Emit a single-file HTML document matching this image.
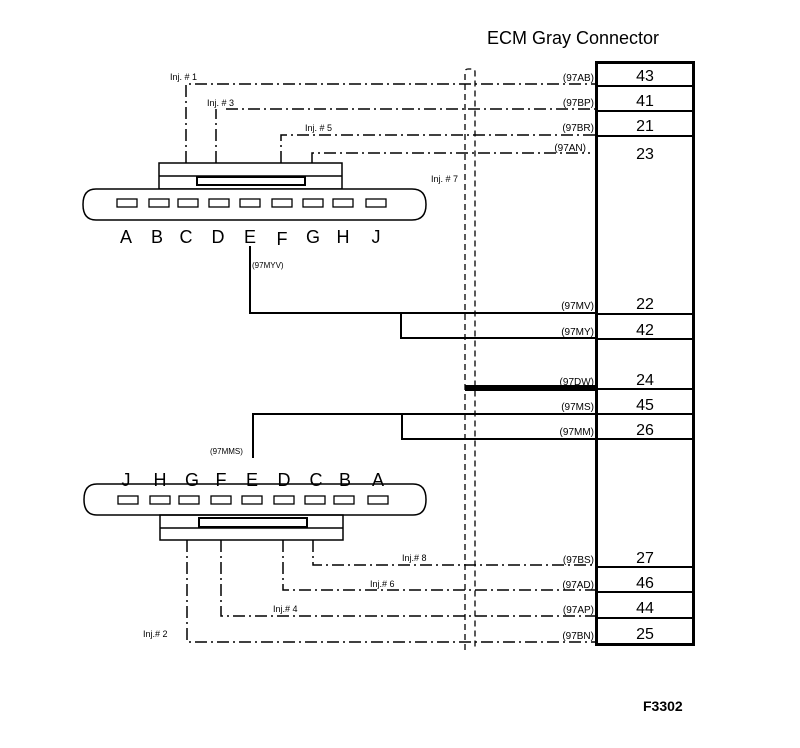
<!DOCTYPE html>
<html><head><meta charset="utf-8"><style>
html,body{margin:0;padding:0;background:#fff}
svg{display:block}
text{font-family:"Liberation Sans",Arial,sans-serif;fill:#000}
</style></head><body>
<svg width="800" height="748" viewBox="0 0 800 748" xmlns="http://www.w3.org/2000/svg">
<text x="487" y="44" font-size="18">ECM Gray Connector</text>
<text x="643" y="711" font-size="14" font-weight="bold">F3302</text>

<!-- ECM box -->
<rect x="596.5" y="62.5" width="97" height="582" fill="none" stroke="#000" stroke-width="3"/>
<g stroke="#000" stroke-width="2">
<line x1="596" y1="86" x2="694" y2="86"/><line x1="596" y1="111" x2="694" y2="111"/><line x1="596" y1="136" x2="694" y2="136"/>
<line x1="596" y1="314" x2="694" y2="314"/><line x1="596" y1="339" x2="694" y2="339"/>
<line x1="596" y1="389" x2="694" y2="389"/><line x1="596" y1="414" x2="694" y2="414"/><line x1="596" y1="439" x2="694" y2="439"/>
<line x1="596" y1="567" x2="694" y2="567"/><line x1="596" y1="592" x2="694" y2="592"/><line x1="596" y1="618" x2="694" y2="618"/>
</g>
<g font-size="16" text-anchor="middle">
<text x="645" y="81">43</text><text x="645" y="106">41</text><text x="645" y="131">21</text><text x="645" y="159">23</text>
<text x="645" y="309">22</text><text x="645" y="335">42</text><text x="645" y="385">24</text><text x="645" y="410">45</text><text x="645" y="435">26</text>
<text x="645" y="563">27</text><text x="645" y="588">46</text><text x="645" y="613">44</text><text x="645" y="639">25</text>
</g>
<g font-size="10" text-anchor="end">
<text x="594" y="81">(97AB)</text><text x="594" y="106">(97BP)</text><text x="594" y="131">(97BR)</text><text x="586" y="151">(97AN)</text>
<text x="594" y="309">(97MV)</text><text x="594" y="335">(97MY)</text><text x="594" y="385">(97DW)</text><text x="594" y="410">(97MS)</text><text x="594" y="435">(97MM)</text>
<text x="594" y="563">(97BS)</text><text x="594" y="588">(97AD)</text><text x="594" y="613">(97AP)</text><text x="594" y="639">(97BN)</text>
</g>

<!-- shield -->
<path d="M465 650 V72 Q465 69 468 69 H472 Q475 69 475 72 V650" fill="none" stroke="#000" stroke-width="1.3" stroke-dasharray="6 4"/>

<!-- dash-dot wires -->
<g fill="none" stroke="#000" stroke-width="1.5" stroke-dasharray="12 4 2 4">
<path d="M186 163 V84 H596"/>
<path d="M216 163 V109"/><path d="M226 109 H596"/>
<path d="M281 163 V135 H596"/>
<path d="M312 163 V153 H590"/>
<path d="M313 540 V565 H596"/>
<path d="M283 540 V590 H596"/>
<path d="M221 540 V616 H596"/>
<path d="M187 540 V642 H596"/>
</g>
<g font-size="9">
<text x="170" y="80">Inj. # 1</text><text x="207" y="106">Inj. # 3</text><text x="305" y="131">Inj. # 5</text><text x="431" y="182">Inj. # 7</text>
<text x="402" y="561">Inj.# 8</text><text x="370" y="587">Inj.# 6</text><text x="273" y="612">Inj.# 4</text><text x="143" y="637">Inj.# 2</text>
<text x="252" y="268" font-size="8">(97MYV)</text><text x="210" y="454" font-size="8">(97MMS)</text>
</g>

<!-- solid wires -->
<g fill="none" stroke="#000" stroke-width="2">
<path d="M250 246 V313 H596"/>
<path d="M401 313 V338 H596"/>
<path d="M253 458 V414 H596"/>
<path d="M402 414 V439 H596"/>
</g>
<rect x="465" y="385" width="131" height="6" fill="#000"/>

<!-- top connector -->
<g fill="none" stroke="#000" stroke-width="1.5">
<rect x="159" y="163" width="183" height="26"/>
<line x1="159" y1="176" x2="342" y2="176"/>
<rect x="197" y="177" width="108" height="8" stroke-width="2"/>
<path d="M96 189 H412 Q426 189 426 204.5 Q426 220 412 220 H96 Q83 220 83 204.5 Q83 189 96 189 Z" fill="#fff"/>
<g stroke-width="1.3">
<rect x="117" y="199" width="20" height="8"/><rect x="149" y="199" width="20" height="8"/><rect x="178" y="199" width="20" height="8"/>
<rect x="209" y="199" width="20" height="8"/><rect x="240" y="199" width="20" height="8"/><rect x="272" y="199" width="20" height="8"/>
<rect x="303" y="199" width="20" height="8"/><rect x="333" y="199" width="20" height="8"/><rect x="366" y="199" width="20" height="8"/>
</g>
</g>
<g font-size="18" text-anchor="middle">
<text x="126" y="243">A</text><text x="157" y="243">B</text><text x="186" y="243">C</text><text x="218" y="243">D</text><text x="250" y="243">E</text>
<text x="282" y="245">F</text><text x="313" y="243">G</text><text x="343" y="243">H</text><text x="376" y="243">J</text>
</g>

<!-- bottom connector -->
<g fill="none" stroke="#000" stroke-width="1.5">
<path d="M97 484 H413 Q426 484 426 499.5 Q426 515 413 515 H97 Q84 515 84 499.5 Q84 484 97 484 Z" fill="#fff"/>
<rect x="160" y="515" width="183" height="25"/>
<line x1="160" y1="528" x2="343" y2="528"/>
<rect x="199" y="518" width="108" height="9" stroke-width="2"/>
<g stroke-width="1.3">
<rect x="118" y="496" width="20" height="8"/><rect x="150" y="496" width="20" height="8"/><rect x="179" y="496" width="20" height="8"/>
<rect x="211" y="496" width="20" height="8"/><rect x="242" y="496" width="20" height="8"/><rect x="274" y="496" width="20" height="8"/>
<rect x="305" y="496" width="20" height="8"/><rect x="334" y="496" width="20" height="8"/><rect x="368" y="496" width="20" height="8"/>
</g>
</g>
<g font-size="18" text-anchor="middle">
<text x="126" y="486">J</text><text x="160" y="486">H</text><text x="192" y="486">G</text><text x="221" y="486">F</text><text x="252" y="486">E</text>
<text x="284" y="486">D</text><text x="316" y="486">C</text><text x="345" y="486">B</text><text x="378" y="486">A</text>
</g>
</svg>
</body></html>
